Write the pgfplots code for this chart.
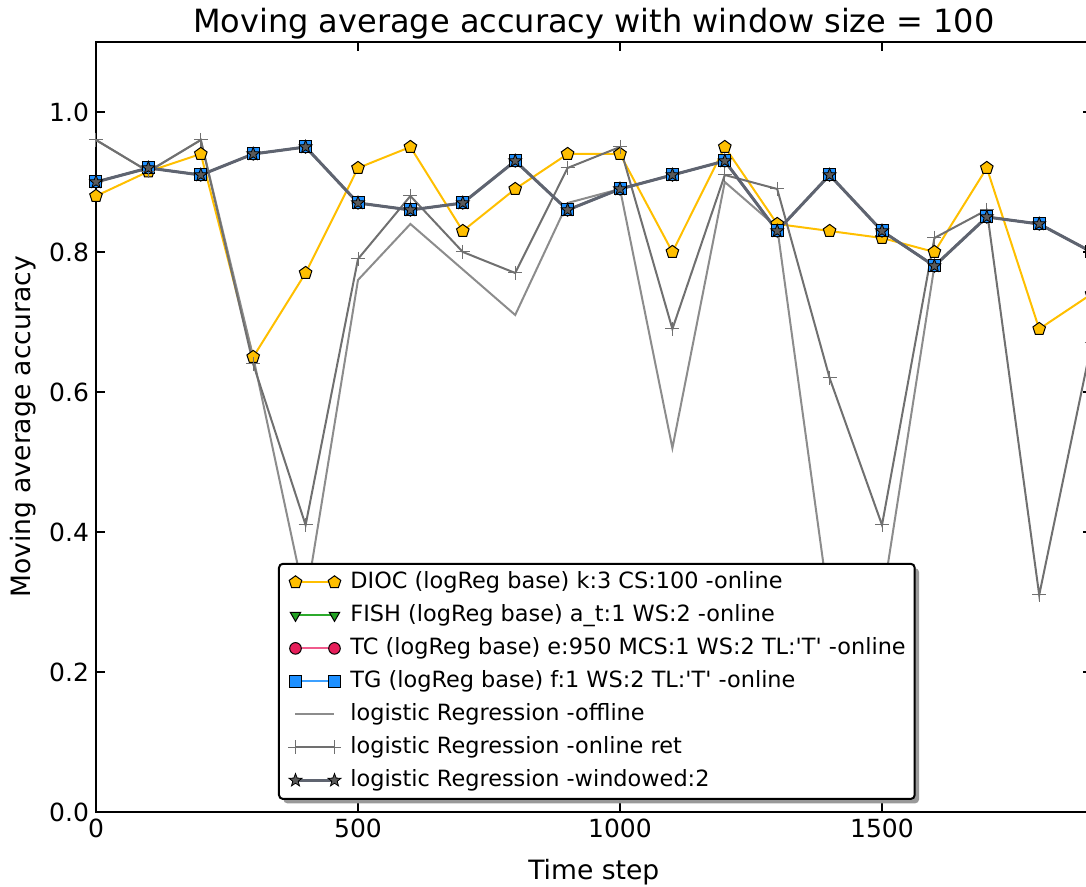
\documentclass[border=0pt]{standalone}
\usepackage{pgfplots}
\pgfplotsset{compat=1.18}
\usepackage{pgfplotstable}
\usepackage{fontspec}
\setmainfont{DejaVu Sans}
\usetikzlibrary{shadows}

\definecolor{dioc}{RGB}{255,191,0}
\definecolor{fishline}{RGB}{44,170,44}
\definecolor{fishfill}{RGB}{34,160,34}
\definecolor{tcline}{RGB}{240,90,140}
\definecolor{tcfill}{RGB}{230,30,90}
\definecolor{tgline}{RGB}{60,160,255}
\definecolor{tgfill}{RGB}{30,144,255}
\definecolor{offgray}{RGB}{140,140,140}
\definecolor{ongray}{RGB}{112,112,112}
\definecolor{wingray}{RGB}{95,100,112}
\definecolor{starfill}{RGB}{90,90,90}

% filled five-pointed star mark
\pgfdeclareplotmark{fstar}{%
  \pgfpathmoveto{\pgfpointpolar{90}{\pgfplotmarksize}}%
  \pgfpathlineto{\pgfpointpolar{126}{0.42\pgfplotmarksize}}%
  \pgfpathlineto{\pgfpointpolar{162}{\pgfplotmarksize}}%
  \pgfpathlineto{\pgfpointpolar{198}{0.42\pgfplotmarksize}}%
  \pgfpathlineto{\pgfpointpolar{234}{\pgfplotmarksize}}%
  \pgfpathlineto{\pgfpointpolar{270}{0.42\pgfplotmarksize}}%
  \pgfpathlineto{\pgfpointpolar{306}{\pgfplotmarksize}}%
  \pgfpathlineto{\pgfpointpolar{342}{0.42\pgfplotmarksize}}%
  \pgfpathlineto{\pgfpointpolar{18}{\pgfplotmarksize}}%
  \pgfpathlineto{\pgfpointpolar{54}{0.42\pgfplotmarksize}}%
  \pgfpathclose
  \pgfusepathqfillstroke
}

\makeatletter
\tikzset{no preactions/.code={\let\tikz@preactions\pgfutil@empty}}
\makeatother

% moving average accuracy (window = 100) per time step
\pgfplotstableread{
t     dioc   tg     off    onl
0     0.88   0.90   0.96   0.96
100   0.915  0.92   0.915  0.915
200   0.94   0.91   0.96   0.96
300   0.65   0.94   0.65   0.64
400   0.77   0.95   0.30   0.41
500   0.92   0.87   0.76   0.79
600   0.95   0.86   0.84   0.88
700   0.83   0.87   0.775  0.80
800   0.89   0.93   0.71   0.77
900   0.94   0.86   0.87   0.92
1000  0.94   0.89   0.89   0.95
1100  0.80   0.91   0.52   0.69
1200  0.95   0.93   0.90   0.91
1300  0.84   0.83   0.835  0.89
1400  0.83   0.91   0.29   0.62
1500  0.82   0.83   0.30   0.41
1600  0.80   0.78   0.78   0.82
1700  0.92   0.85   0.85   0.86
1800  0.69   0.84   0.84   0.31
1900  0.74   0.80   0.80   0.67
}\acc

\begin{document}
\begin{tikzpicture}
\path[use as bounding box] (0,0) rectangle (543pt,443.5pt);
\clip (0,0) rectangle (543pt,443.5pt);
\begin{axis}[
  at={(48pt,37.5pt)}, anchor=south west,
  scale only axis,
  width=497.8pt, height=385pt,
  xmin=0, xmax=1900, ymin=0, ymax=1.1,
  xtick={0,500,1000,1500},
  ytick={0,0.2,0.4,0.6,0.8,1.0},
  tick align=inside,
  major tick length=4.5pt,
  tick style={black, line width=0.6pt},
  axis line style={line width=1pt},
  /pgf/number format/assume math mode=true,
  ticklabel style={font=\fontsize{12.5}{15}\selectfont},
  xticklabel style={/pgf/number format/1000 sep={}},
  yticklabel style={/pgf/number format/.cd, fixed, fixed zerofill, precision=1},
  title={Moving average accuracy with window size = 100},
  title style={font=\fontsize{16}{19}\selectfont, at={(axis description cs:0.5,1)}, anchor=base, yshift=-1.5pt},
  xlabel={Time step},
  xlabel style={font=\fontsize{13.3}{16}\selectfont, at={(axis description cs:0.5,0)}, anchor=base, yshift=-34pt},
  ylabel={Moving average accuracy},
  ylabel style={font=\fontsize{13.3}{16}\selectfont, at={([xshift=-32.5pt]axis description cs:0,0.5)}, anchor=base},
  legend image code/.code={%
    \path (-7.5pt,0pt);
    \draw[no preactions, mark repeat=1, mark phase=1, sharp corners] plot coordinates {(0pt,0pt) (19.5pt,0pt)};},
  legend cell align=left,
  legend style={
    at={(axis description cs:0.1828,0.0156)}, anchor=south west,
    font=\fontsize{11.2}{13.5}\selectfont,
    draw=black, line width=1pt, rounded corners=2pt,
    fill=white,
    drop shadow={shadow xshift=2.2pt, shadow yshift=-2.2pt, fill=black!40, opacity=1},
    inner xsep=0pt, inner ysep=1.2pt,
    row sep=0.3pt,
    nodes={text height=9pt, text depth=3.2pt, inner ysep=2pt, inner xsep=4.5pt},
  },
]
\addplot[dioc, line width=1pt, mark=pentagon*, mark size=3.3pt,
  mark options={fill=dioc, draw=black, line width=0.5pt, solid}]
  table[x=t, y=dioc] {\acc};
\addlegendentry{DIOC (logReg base) k:3 CS:100 -online}
\addplot[fishline, line width=1pt, mark=triangle*, mark size=3pt,
  mark options={fill=fishfill, draw=black, line width=0.5pt, rotate=180}]
  table[x=t, y=tg] {\acc};
\addlegendentry{FISH (logReg base) a\_t:1 WS:2 -online}
\addplot[tcline, line width=1pt, mark=*, mark size=2.9pt,
  mark options={fill=tcfill, draw=black, line width=0.5pt}]
  table[x=t, y=tg] {\acc};
\addlegendentry{TC (logReg base) e:950 MCS:1 WS:2 TL:\textquotesingle T\textquotesingle\ -online}
\addplot[tgline, line width=1pt, mark=square*, mark size=3pt,
  mark options={fill=tgfill, draw=black, line width=0.5pt}]
  table[x=t, y=tg] {\acc};
\addlegendentry{TG (logReg base) f:1 WS:2 TL:\textquotesingle T\textquotesingle\ -online}
\addplot[offgray, line width=1pt, mark=none]
  table[x=t, y=off] {\acc};
\addlegendentry{logistic Regression -offline}
\addplot[ongray, line width=1pt, mark=+, mark size=3.5pt,
  mark options={ongray, line width=0.5pt}]
  table[x=t, y=onl] {\acc};
\addlegendentry{logistic Regression -online ret}
\addplot[wingray, line width=1.5pt, mark=fstar, mark size=3.4pt,
  mark options={fill=starfill, draw=black, line width=0.4pt}]
  table[x=t, y=tg] {\acc};
\addlegendentry{logistic Regression -windowed:2}
\end{axis}
\end{tikzpicture}
\end{document}
